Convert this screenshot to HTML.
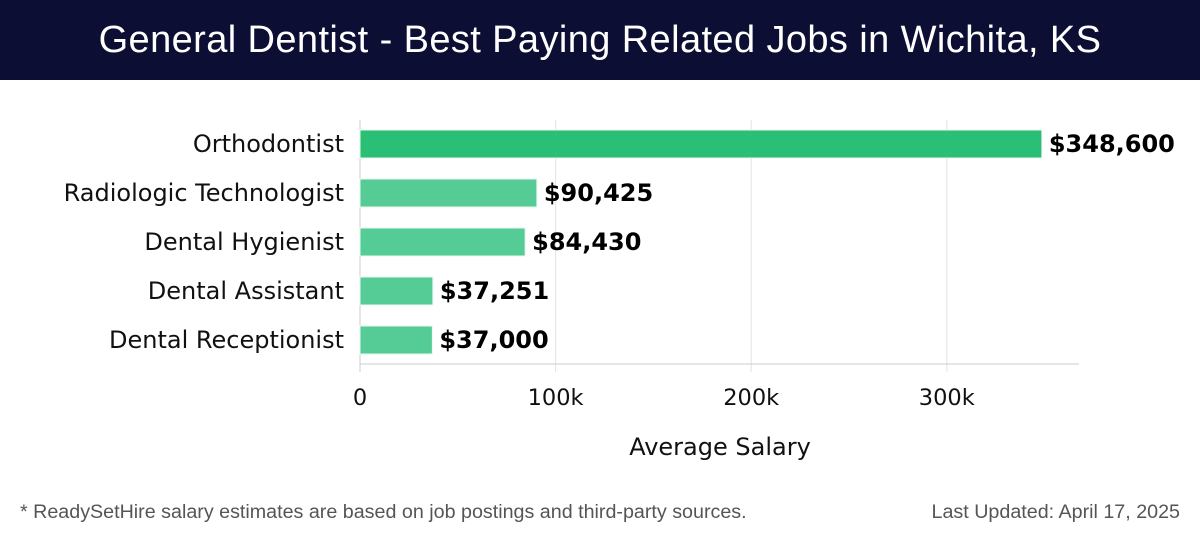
<!DOCTYPE html>
<html><head><meta charset="utf-8"><style>
body{margin:0;width:1200px;height:540px;background:#fff;overflow:hidden;font-family:"DejaVu Sans","Liberation Sans",sans-serif}
#title{position:absolute;left:0;top:0;width:1200px;height:80px;background:#0d0e33;color:#fff;font-family:"Liberation Sans",sans-serif;font-size:38px;text-align:center;line-height:80px;letter-spacing:0.4px}
.foot{position:absolute;top:501px;font-family:"Liberation Sans",sans-serif;font-size:19.7px;color:#555}
</style></head><body>
<div id="title">General Dentist - Best Paying Related Jobs in Wichita, KS</div>
<svg id="chart" width="1200" height="460" style="position:absolute;left:0;top:80px"></svg>
<div class="foot" style="left:20px">* ReadySetHire salary estimates are based on job postings and third-party sources.</div>
<div class="foot" style="right:20px">Last Updated: April 17, 2025</div>
<script>
const categories=["Orthodontist","Radiologic Technologist","Dental Hygienist","Dental Assistant","Dental Receptionist"];
const values=[348600,90425,84430,37251,37000];
const valueLabels=["$348,600","$90,425","$84,430","$37,251","$37,000"];
const ticks=[0,100000,200000,300000];
const tickLabels=["0","100k","200k","300k"];
const svg=document.getElementById('chart');const NS="http://www.w3.org/2000/svg";
const x0=360,pxPer=1.956/1000,yTop=50,step=49,barH=28;
const x=v=>x0+v*pxPer;
function mk(t,a,p){const e=document.createElementNS(NS,t);for(const k in a)e.setAttribute(k,a[k]);(p||svg).appendChild(e);return e;}
ticks.forEach((t,i)=>{
 const g=mk('line',{x1:x(t),x2:x(t),y1:40,y2:292,stroke:i==0?'#ccc':'#e3e3e3','stroke-width':1});
 
 
 const tl=mk('text',{x:x(t),y:325,'text-anchor':'middle','font-size':22.5,fill:'#111'});tl.textContent=tickLabels[i];
 
 
});
const ax=mk('line',{x1:x0,x2:1079,y1:284,y2:284,stroke:'#ccc'});


categories.forEach((c,i)=>{
 const yc=yTop+i*step+barH/2;
 const b=mk('rect',{x:x0,y:yc-barH/2,width:x(values[i])-x0,height:barH,fill:i==0?'#2abf74':'#55cc96',stroke:'#e8f8ef','stroke-width':1});
 
 
 const l=mk('text',{x:344,y:yc+8,'text-anchor':'end','font-size':24,fill:'#111'});l.textContent=c;
 
 
 const v=mk('text',{x:x(values[i])+7,y:yc+8,'font-size':24,'font-weight':'bold',fill:'#000'});v.textContent=valueLabels[i];
 
 
});
const at=mk('text',{x:720,y:375,'text-anchor':'middle','font-size':24,fill:'#111'});at.textContent="Average Salary";


</script>
</body></html>
